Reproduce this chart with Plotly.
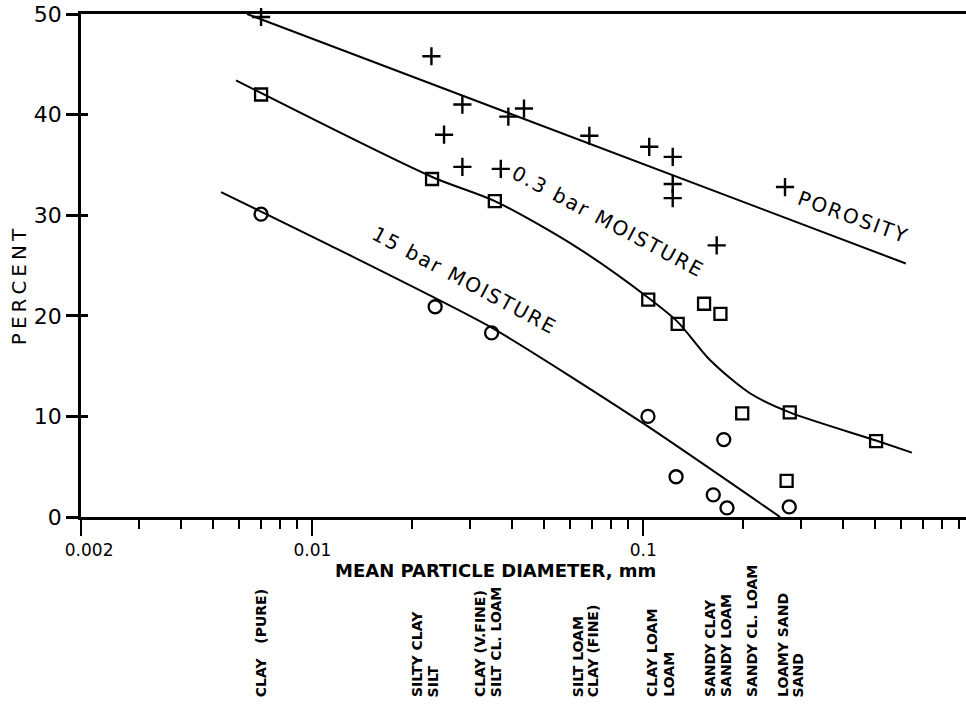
import numpy as np
import plotly.graph_objects as go

# Porosity (+), 0.3 bar moisture (squares) and 15 bar moisture (circles)
porosity_x = [0.0070, 0.0229, 0.0284, 0.0250, 0.0284, 0.0391, 0.0436, 0.0371,
              0.0687, 0.1042, 0.1227, 0.1227, 0.1227, 0.1666, 0.268]
porosity_y = [49.7, 45.8, 41.0, 38.0, 34.8, 39.8, 40.6, 34.6,
              37.9, 36.8, 35.8, 33.1, 31.7, 27.0, 32.8]

moist03_x = [0.0070, 0.0230, 0.0356, 0.1035, 0.127, 0.1526, 0.171, 0.199, 0.277, 0.271, 0.505]
moist03_y = [42.0, 33.6, 31.4, 21.6, 19.2, 21.2, 20.2, 10.3, 10.4, 3.6, 7.55]

moist15_x = [0.0070, 0.0235, 0.0348, 0.1033, 0.1256, 0.1627, 0.175, 0.179, 0.276]
moist15_y = [30.1, 20.9, 18.3, 10.0, 4.0, 2.2, 7.7, 0.9, 1.0]

# Fitted curves
poro_fit_x = [0.00635, 0.621]
poro_fit_y = [50.0, 25.2]

m03_fit_x = [0.00588, 0.0230, 0.0356, 0.063, 0.1035, 0.127, 0.159, 0.210, 0.277, 0.505, 0.648]
m03_fit_y = [43.4, 33.8, 31.4, 26.8, 21.8, 19.4, 15.6, 12.3, 10.4, 7.6, 6.4]

m15_fit_x = [0.0053, 0.0113, 0.0349, 0.1, 0.259]
m15_fit_y = [32.3, 27.0, 18.8, 9.3, 0.0]

# Soil texture classes under the diameter axis
soil_names = ["CLAY" + "\u00a0" * 3 + "(PURE)", "SILTY CLAY", "SILT", "CLAY (V.FINE)",
              "SILT CL. LOAM", "SILT LOAM", "CLAY (FINE)", "CLAY LOAM", "LOAM",
              "SANDY CLAY", "SANDY LOAM", "SANDY CL. LOAM", "LOAMY SAND", "SAND"]
soil_x = [0.0070, 0.0207, 0.0232, 0.0320, 0.0359, 0.0633, 0.0703, 0.1062, 0.1196,
          0.159, 0.177, 0.213, 0.264, 0.294]

x_major = [0.002, 0.01, 0.1]
x_major_text = ["\u00a0\u00a0\u00a00.002", "0.01", "0.1"]
x_minor = [k * 10.0 ** e for e in (-3, -2, -1) for k in range(2, 10)]
x_minor = [v for v in x_minor if v > 0.0025 and abs(np.log10(v) - np.round(np.log10(v))) > 1e-9]
y_ticks = [0, 10, 20, 30, 40, 50]

FONT = "DejaVu Sans, Liberation Sans, sans-serif"
HAIR = "\u200a"

fig = go.Figure()

fig.add_trace(go.Scatter(x=poro_fit_x, y=poro_fit_y, mode="lines",
                         line=dict(color="black", width=2),
                         hoverinfo="skip", cliponaxis=False))
fig.add_trace(go.Scatter(x=m03_fit_x, y=m03_fit_y, mode="lines",
                         line=dict(color="black", width=2, shape="spline", smoothing=0.8),
                         hoverinfo="skip", cliponaxis=False))
fig.add_trace(go.Scatter(x=m15_fit_x, y=m15_fit_y, mode="lines",
                         line=dict(color="black", width=2, shape="spline", smoothing=0.6),
                         hoverinfo="skip", cliponaxis=False))

fig.add_trace(go.Scatter(x=porosity_x, y=porosity_y, mode="markers", name="Porosity",
                         marker=dict(symbol="cross-thin-open", size=13, color="black",
                                     line=dict(width=2.4, color="black")),
                         cliponaxis=False))
fig.add_trace(go.Scatter(x=moist03_x, y=moist03_y, mode="markers", name="0.3 bar",
                         marker=dict(symbol="square-open", size=12, color="black",
                                     line=dict(width=2.3, color="black")),
                         cliponaxis=False))
fig.add_trace(go.Scatter(x=moist15_x, y=moist15_y, mode="markers", name="15 bar",
                         marker=dict(symbol="circle-open", size=13, color="black",
                                     line=dict(width=2.3, color="black")),
                         cliponaxis=False))

# companion axis that carries the inward half of the y ticks
fig.add_trace(go.Scatter(x=[None], y=[None], yaxis="y2", showlegend=False, hoverinfo="skip"))

annotations = []
# curve labels, letters slightly spread apart
for text, xv, yv, ang, size in [("POROSITY", 0.43, 29.8, 20, 20),
                                ("0.3 bar MOISTURE", 0.0777, 29.4, 28, 20),
                                ("15 bar MOISTURE", 0.0287, 23.6, 28, 20)]:
    annotations.append(dict(x=np.log10(xv), y=yv, xref="x", yref="y", text=HAIR.join(text),
                            showarrow=False, textangle=ang, xanchor="center", yanchor="middle",
                            font=dict(family=FONT, size=size, color="black")))

for name, xv in zip(soil_names, soil_x):
    annotations.append(dict(x=np.log10(xv), y=-0.362, xref="x", yref="paper",
                            text="<b>" + name + "</b>",
                            showarrow=False, textangle=-90, xanchor="center", yanchor="bottom",
                            font=dict(family=FONT, size=14, color="black")))

annotations.append(dict(x=0.468, y=-0.1054, xref="paper", yref="paper",
                        text="<b>MEAN PARTICLE DIAMETER, mm</b>", showarrow=False,
                        xanchor="center", yanchor="middle",
                        font=dict(family=FONT, size=18, color="black")))
annotations.append(dict(x=-0.070, y=0.457, xref="paper", yref="paper",
                        text="\u2009".join("PERCENT"), showarrow=False, textangle=-90,
                        xanchor="center", yanchor="middle",
                        font=dict(family=FONT, size=20, color="black")))

fig.update_layout(
    width=966, height=704,
    margin=dict(l=81, r=0, t=14, b=187),
    paper_bgcolor="white", plot_bgcolor="white",
    showlegend=False,
    annotations=annotations,
    xaxis=dict(type="log", range=[np.log10(0.002), np.log10(0.944)],
               showgrid=False, zeroline=False,
               showline=True, linecolor="black", linewidth=2.5, mirror=True,
               tickvals=x_major, ticktext=x_major_text,
               ticks="outside", ticklen=16, tickwidth=2, tickcolor="black",
               tickfont=dict(family=FONT, size=17, color="black"),
               minor=dict(tickvals=x_minor, ticks="outside", ticklen=9, tickwidth=2,
                          tickcolor="black", showgrid=False)),
    yaxis=dict(range=[0, 50], showgrid=False, zeroline=False,
               showline=True, linecolor="black", linewidth=2.5,
               tickvals=y_ticks, ticks="outside", ticklen=12, tickwidth=2.5, tickcolor="black",
               tickfont=dict(family=FONT, size=22, color="black"),
               ticklabelstandoff=0),
    yaxis2=dict(range=[0, 50], overlaying="y", side="left", showgrid=False, zeroline=False,
                showline=False, tickvals=y_ticks, ticks="inside", ticklen=7, tickwidth=2.5,
                tickcolor="black", showticklabels=False),
)

fig.write_html("out.html")
